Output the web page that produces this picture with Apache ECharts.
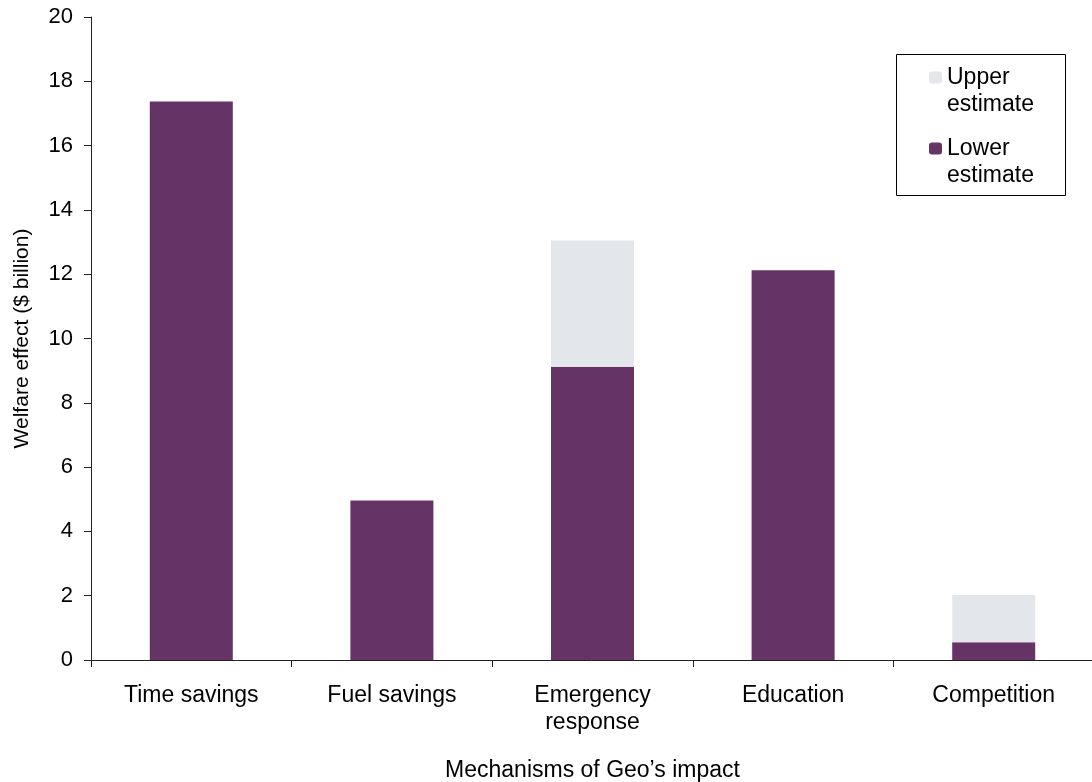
<!DOCTYPE html>
<html>
<head>
<meta charset="utf-8">
<script src="https://cdn.jsdelivr.net/npm/echarts@6/dist/echarts.min.js"></script>
<style>
html,body{margin:0;padding:0;background:#fff;}
#chart{width:1092px;height:782px;}
</style>
</head>
<body>
<div id="chart"></div>
<script>
const categories = ['Time savings', 'Fuel savings', 'Emergency\nresponse', 'Education', 'Competition'];
const lowerEstimate = [17.37, 4.96, 9.12, 12.12, 0.55];
const upperEstimate = [17.37, 4.96, 13.05, 12.12, 2.02];
const yTicks = [0, 2, 4, 6, 8, 10, 12, 14, 16, 18, 20];

const upperExtra = upperEstimate.map((v, i) => +(v - lowerEstimate[i]).toFixed(2));

const FONT = 'Liberation Sans, Arial, sans-serif';
const chart = echarts.init(document.getElementById('chart'));
chart.setOption({
  backgroundColor: '#fff',
  animation: false,
  textStyle: { fontFamily: FONT, color: '#000' },
  grid: { left: 91, top: 17, width: 1003, bottom: 122, containLabel: false, outerBoundsMode: 'none' },
  legend: {
    orient: 'vertical',
    left: 929,
    top: 37,
    padding: 0,
    itemGap: -10,
    itemWidth: 13,
    itemHeight: 12,
    data: ['Upper estimate', 'Lower estimate'],
    formatter: function (name) { return '\n' + name.replace(' ', '\n'); },
    textStyle: { fontFamily: FONT, fontSize: 23, color: '#000', lineHeight: 27 }
  },
  graphic: [{
    type: 'rect',
    shape: { x: 896.5, y: 54.5, width: 169, height: 141 },
    style: { fill: 'none', stroke: '#000', lineWidth: 1 },
    silent: true
  }],
  xAxis: {
    type: 'category',
    data: categories,
    name: 'Mechanisms of Geo\u2019s impact',
    nameLocation: 'middle',
    nameGap: 99,
    nameTextStyle: { fontFamily: FONT, fontSize: 23, color: '#000' },
    axisLine: { lineStyle: { color: '#222', width: 1 } },
    axisTick: { show: true, length: 7, lineStyle: { color: '#222' } },
    axisLabel: { fontFamily: FONT, fontSize: 23, color: '#000', margin: 22, lineHeight: 27, interval: 0 },
    splitLine: { show: false }
  },
  yAxis: {
    type: 'value',
    min: 0,
    max: 20,
    interval: 2,
    name: 'Welfare effect ($ billion)',
    nameLocation: 'middle',
    nameGap: 58,
    nameTextStyle: { fontFamily: FONT, fontSize: 21, color: '#000' },
    axisLine: { show: true, lineStyle: { color: '#222', width: 1 } },
    axisTick: { show: true, length: 7, lineStyle: { color: '#222' } },
    axisLabel: {
      fontFamily: FONT, fontSize: 22, color: '#000', margin: 18,
      formatter: function (v) { return yTicks.indexOf(v) >= 0 ? String(v) : ''; }
    },
    splitLine: { show: false }
  },
  series: [
    {
      name: 'Lower estimate',
      type: 'bar',
      stack: 'est',
      data: lowerEstimate,
      barWidth: 83,
      itemStyle: { color: '#663366' }
    },
    {
      name: 'Upper estimate',
      type: 'bar',
      stack: 'est',
      data: upperExtra,
      barWidth: 83,
      itemStyle: { color: '#E3E6EB' }
    }
  ]
});
</script>
</body>
</html>
